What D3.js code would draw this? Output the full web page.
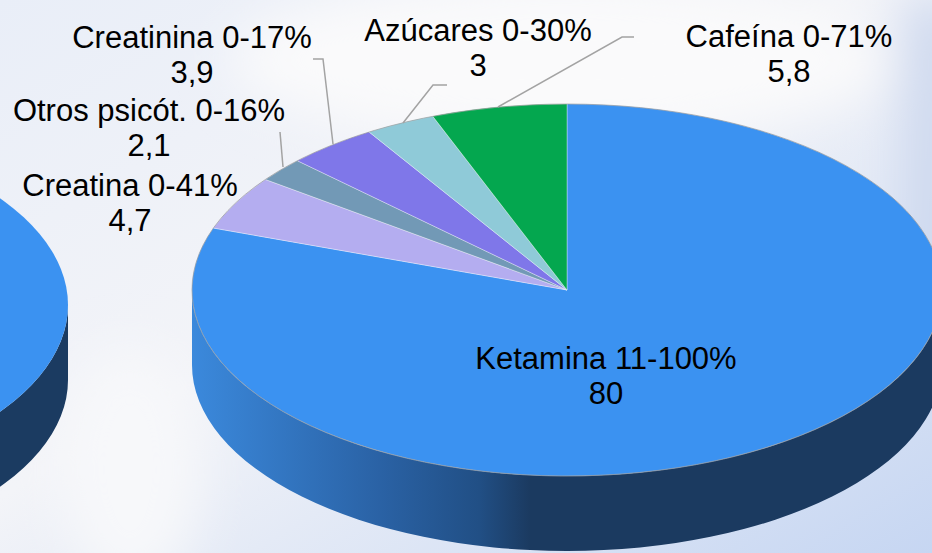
<!DOCTYPE html>
<html>
<head>
<meta charset="utf-8">
<script src="https://cdn.jsdelivr.net/npm/d3@7"></script>
<style>
  body { margin: 0; overflow: hidden; }
  svg { display: block; }
  .lbl { font-family: 'Liberation Sans', Arial, sans-serif; font-size: 31px; fill: #000; }
</style>
</head>
<body>
<div id="chart"></div>
<script>
// Chart data
var categories = ['Ketamina', 'Creatina', 'Otros psicót.', 'Creatinina', 'Azúcares', 'Cafeína']
var ranges = ['11-100%', '0-41%', '0-16%', '0-17%', '0-30%', '0-71%']
var values = [80, 4.7, 2.1, 3.9, 3, 5.8]
var valueLabels = ['80', '4,7', '2,1', '3,9', '3', '5,8']
var sliceColors = ['#3b92f1', '#b4adf0', '#7299b6', '#7f77e9', '#8fcad8', '#04a74f']

// Layout
var width = 932
var height = 553
var pie3d = { cx: 567, cy: 290, rx: 375, ry: 186, depth: 75 }
var leftPie = { cx: -307, cy: 305, rx: 375, ry: 186, depth: 75 }

// Label anchors (center x, first baseline) in the same order as categories
var labelPos = [[606, 369], [130, 196], [149, 121], [192, 48], [478, 41], [789, 47]]

// Leader lines (only drawn for the small slices)
var leaders = [
  [[313, 59], [323, 59], [333, 144]],
  [[280, 132], [283, 167]],
  [[447, 85], [433, 85], [403, 123]],
  [[634, 37], [622, 37], [498, 107]]
]

var svg = d3.select('#chart').append('svg')
  .attr('width', width)
  .attr('height', height)

var defs = svg.append('defs')

// Background gradient
var bg = defs.append('linearGradient')
  .attr('id', 'bgGrad')
  .attr('x1', 0).attr('y1', 0).attr('x2', 1).attr('y2', 1)
bg.append('stop').attr('offset', 0).attr('stop-color', '#e9eef8')
bg.append('stop').attr('offset', 0.45).attr('stop-color', '#f3f4f8')
bg.append('stop').attr('offset', 1).attr('stop-color', '#c6d6f2')

defs.append('filter').attr('id', 'blur')
  .attr('x', '-50%').attr('y', '-50%').attr('width', '200%').attr('height', '200%')
  .append('feGaussianBlur').attr('stdDeviation', 25)

// Side wall gradient of the main pie
var side = defs.append('linearGradient')
  .attr('id', 'sideGrad')
  .attr('gradientUnits', 'userSpaceOnUse')
  .attr('x1', 192).attr('y1', 0).attr('x2', 530).attr('y2', 0)
side.append('stop').attr('offset', 0).attr('stop-color', '#3b89dc')
side.append('stop').attr('offset', 0.556).attr('stop-color', '#2a62a5')
side.append('stop').attr('offset', 0.85).attr('stop-color', '#214f85')
side.append('stop').attr('offset', 1).attr('stop-color', '#1b3a60')

svg.append('rect')
  .attr('width', width)
  .attr('height', height)
  .attr('fill', 'url(#bgGrad)')

// Soft highlights in the background
var glow = svg.append('g').attr('filter', 'url(#blur)')
glow.append('ellipse').attr('cx', 560).attr('cy', 60).attr('rx', 330).attr('ry', 80).attr('fill', '#fafafb')
glow.append('ellipse').attr('cx', 130).attr('cy', 470).attr('rx', 70).attr('ry', 120).attr('fill', '#f7f8fa')
glow.append('rect').attr('x', 905).attr('y', 0).attr('width', 60).attr('height', 330).attr('fill', '#cdd8ee')

/**
 * Builds the visible part of a pie side wall between two angles
 */
function sidePath (p, a0, a1) {
  var pt = function (a, dy) {
    return [p.cx + p.rx * Math.sin(a), p.cy - p.ry * Math.cos(a) + dy]
  }
  var large = (a1 - a0) > Math.PI ? 1 : 0
  return 'M' + pt(a0, 0) +
    'A' + p.rx + ',' + p.ry + ' 0 ' + large + ' 1 ' + pt(a1, 0) +
    'L' + pt(a1, p.depth) +
    'A' + p.rx + ',' + p.ry + ' 0 ' + large + ' 0 ' + pt(a0, p.depth) + 'Z'
}

var pie = d3.pie().sort(null).value(function (d) { return d })
var arc = d3.arc().innerRadius(0).outerRadius(1)

// Neighbouring pie, cut off by the left edge
svg.append('path')
  .attr('d', sidePath(leftPie, Math.PI / 2, 3 * Math.PI / 2))
  .attr('fill', '#1b3b61')
svg.append('ellipse')
  .attr('cx', leftPie.cx).attr('cy', leftPie.cy)
  .attr('rx', leftPie.rx).attr('ry', leftPie.ry)
  .attr('fill', sliceColors[0])

var arcs = pie(values)

// Side walls: only the front half is visible
svg.append('g').selectAll('path')
  .data(arcs.filter(function (d) { return d.endAngle > Math.PI / 2 && d.startAngle < 3 * Math.PI / 2 }))
  .join('path')
  .attr('d', function (d) {
    return sidePath(pie3d, Math.max(d.startAngle, Math.PI / 2), Math.min(d.endAngle, 3 * Math.PI / 2))
  })
  .attr('fill', function (d, i) { return i === 0 ? 'url(#sideGrad)' : d3.color(sliceColors[d.index]).darker(1) })

// Top faces
svg.append('g')
  .attr('transform', 'translate(' + pie3d.cx + ',' + pie3d.cy + ') scale(' + pie3d.rx + ',' + pie3d.ry + ')')
  .selectAll('path')
  .data(arcs)
  .join('path')
  .attr('d', arc)
  .attr('fill', function (d) { return sliceColors[d.index] })
  .attr('stroke', 'rgba(255,255,255,0.35)')
  .attr('stroke-width', 1)
  .attr('vector-effect', 'non-scaling-stroke')

svg.append('ellipse')
  .attr('cx', pie3d.cx).attr('cy', pie3d.cy)
  .attr('rx', pie3d.rx).attr('ry', pie3d.ry)
  .attr('fill', 'none')
  .attr('stroke', 'rgba(120,120,120,0.5)')
  .attr('stroke-width', 1)

// Leader lines
svg.append('g').selectAll('path')
  .data(leaders)
  .join('path')
  .attr('d', d3.line())
  .attr('fill', 'none')
  .attr('stroke', '#a3a3a3')
  .attr('stroke-width', 1.5)

// Data labels
var lbl = svg.append('g').selectAll('text')
  .data(categories)
  .join('text')
  .attr('class', 'lbl')
  .attr('text-anchor', 'middle')
  .attr('x', function (d, i) { return labelPos[i][0] })
  .attr('y', function (d, i) { return labelPos[i][1] })

lbl.append('tspan')
  .attr('x', function (d, i) { return labelPos[i][0] })
  .text(function (d, i) { return d + ' ' + ranges[i] })

lbl.append('tspan')
  .attr('x', function (d, i) { return labelPos[i][0] })
  .attr('dy', 35)
  .text(function (d, i) { return valueLabels[i] })
</script>
</body>
</html>
